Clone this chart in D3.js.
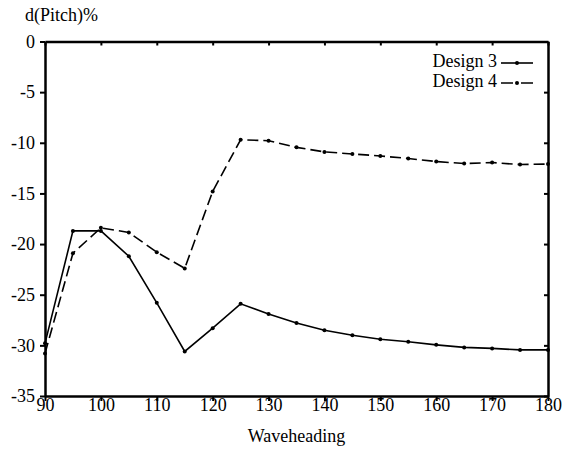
<!DOCTYPE html>
<html lang="en-US">
<head>
<meta charset="utf-8">
<title>d(Pitch)%</title>
<script src="https://cdn.jsdelivr.net/npm/d3@7"></script>
<style>
  body { margin: 0; background: #fff; }
  text { font-family: "Liberation Serif", "Times New Roman", serif; }
</style>
</head>
<body>
<div class="chart"></div>
<script>
const headings = [90, 95, 100, 105, 110, 115, 120, 125, 130, 135, 140, 145, 150, 155, 160, 165, 170, 175, 180];
const design3 = [-29.8, -18.7, -18.7, -21.2, -25.8, -30.6, -28.3, -25.9, -26.9, -27.8, -28.5, -29.0, -29.4, -29.65, -29.95, -30.2, -30.3, -30.45, -30.45];
const design4 = [-30.8, -20.9, -18.4, -18.85, -20.8, -22.4, -14.8, -9.7, -9.8, -10.45, -10.9, -11.1, -11.3, -11.55, -11.85, -12.05, -11.95, -12.15, -12.1];
const xTicks = [90, 100, 110, 120, 130, 140, 150, 160, 170, 180];
const yTicks = [0, -5, -10, -15, -20, -25, -30, -35];
const seriesNames = ["Design 3", "Design 4"];

const width = 565, height = 449;
const margin = {top: 41.5, right: 17, bottom: 53, left: 45};

const svg = d3.select(".chart")
    .append("svg")
    .attr("width", width)
    .attr("height", height);

const x = d3.scaleLinear().domain([90, 180]).range([margin.left, width - margin.right]);
const y = d3.scaleLinear().domain([-35, 0]).range([height - margin.bottom, margin.top]);

// plain hyphen minus, like the original
const fmt = d => String(d);

// axes: left/bottom ticks outward, top/right ticks inward
const axisStyle = g => {
    g.attr("font-family", null);
    g.select(".domain").attr("stroke-width", 2.5);
    g.selectAll(".tick line").attr("stroke-width", 2);
    g.selectAll("text").attr("font-size", "18px").attr("fill", "black");
};

svg.append("g")
    .attr("transform", `translate(0,${y(-35)})`)
    .call(d3.axisBottom(x).tickValues(xTicks).tickFormat(fmt).tickSize(5).tickSizeOuter(0))
    .call(axisStyle)
    .call(g => g.selectAll("text").attr("y", 2).attr("dy", "0.71em"));

svg.append("g")
    .attr("transform", `translate(${x(90)},0)`)
    .call(d3.axisLeft(y).tickValues(yTicks).tickFormat(fmt).tickSize(5).tickPadding(5).tickSizeOuter(0))
    .call(axisStyle);

svg.append("g")
    .attr("transform", `translate(0,${y(0)})`)
    .call(d3.axisTop(x).tickValues(xTicks).tickSize(-4).tickFormat("").tickSizeOuter(0))
    .call(axisStyle);

svg.append("g")
    .attr("transform", `translate(${x(180)},0)`)
    .call(d3.axisRight(y).tickValues(yTicks).tickSize(-4).tickFormat("").tickSizeOuter(0))
    .call(axisStyle);

// series
const line = d3.line()
    .x((d, i) => x(headings[i]))
    .y(d => y(d));

const series = [
    {name: seriesNames[0], values: design3, dash: null},
    {name: seriesNames[1], values: design4, dash: "11,5"}
];

series.forEach(s => {
    svg.append("path")
        .datum(s.values)
        .attr("fill", "none")
        .attr("stroke", "black")
        .attr("stroke-width", 1.6)
        .attr("stroke-dasharray", s.dash)
        .attr("d", line);

    svg.append("g")
        .selectAll("circle")
        .data(s.values)
        .join("circle")
        .attr("cx", (d, i) => x(headings[i]))
        .attr("cy", d => y(d))
        .attr("r", 2)
        .attr("fill", "black");
});

// legend
const legend = svg.append("g")
    .attr("transform", "translate(497, 63)");

series.forEach((s, i) => {
    const row = legend.append("g").attr("transform", `translate(0,${i * 20})`);
    row.append("text")
        .attr("x", 0)
        .attr("y", 0)
        .attr("text-anchor", "end")
        .attr("dominant-baseline", "middle")
        .attr("font-size", "18px")
        .text(s.name);
    row.append("line")
        .attr("x1", 4)
        .attr("x2", 36)
        .attr("y1", 0)
        .attr("y2", 0)
        .attr("stroke", "black")
        .attr("stroke-width", 1.6)
        .attr("stroke-dasharray", s.dash ? "12,8" : null);
    row.append("circle")
        .attr("cx", 20)
        .attr("cy", 0)
        .attr("r", 2)
        .attr("fill", "black");
});

// axis titles
svg.append("text")
    .attr("x", 25)
    .attr("y", 21)
    .attr("font-size", "18px")
    .text("d(Pitch)%");

svg.append("text")
    .attr("x", (x(90) + x(180)) / 2)
    .attr("y", 442)
    .attr("text-anchor", "middle")
    .attr("font-size", "18px")
    .text("Waveheading");
</script>
</body>
</html>
